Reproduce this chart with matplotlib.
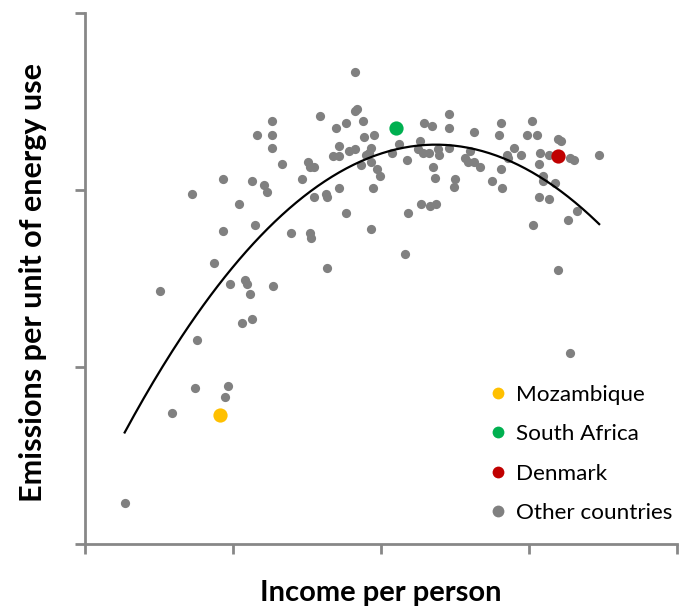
import numpy as np
import matplotlib
matplotlib.use("Agg")
import matplotlib.pyplot as plt
from matplotlib.lines import Line2D

plt.rcParams["font.family"] = ["Lato", "DejaVu Sans"]

# income per person (arbitrary units, axis ticks every 1)
other_income = [
    0.25, 0.49, 0.57, 0.71, 0.73, 0.74, 0.86, 0.92, 0.92, 0.93,
    0.95, 0.97, 1.03, 1.05, 1.07, 1.08, 1.10, 1.12, 1.12, 1.14,
    1.15, 1.20, 1.22, 1.25, 1.25, 1.25, 1.26, 1.32, 1.38, 1.46,
    1.50, 1.51, 1.54, 1.51, 1.52, 1.54, 1.62, 1.63, 1.63, 1.58,
    1.69, 1.76, 1.71, 1.67, 1.71, 1.78, 1.82, 1.71, 1.76, 1.82,
    1.82, 1.83, 1.87, 1.88, 1.95, 1.93, 1.91, 1.89, 1.93, 1.86,
    1.97, 1.99, 1.94, 1.93, 2.12, 2.07, 2.17, 2.16, 2.18, 2.27,
    2.33, 2.37, 2.26, 2.25, 2.28, 2.32, 2.38, 2.39, 2.29, 2.34,
    2.35, 2.36, 2.46, 2.46, 2.46, 2.60, 2.57, 2.59, 2.63, 2.67,
    2.63, 2.50, 2.49, 2.75, 2.81, 2.82, 2.81, 2.80, 2.85, 2.86,
    2.90, 2.95, 3.02, 2.99, 3.06, 3.08, 3.14, 3.07, 3.10, 3.10,
    3.18, 3.07, 3.14, 3.20, 3.22, 3.28, 3.31, 3.33, 3.27, 3.03,
    3.20, 3.28, 3.48,
]
# emissions per unit of energy use
other_emis = [
    0.23, 1.43, 0.74, 1.98, 0.88, 1.15, 1.59, 2.06, 1.77, 0.83,
    0.89, 1.47, 1.92, 1.25, 1.49, 1.47, 1.41, 1.27, 2.05, 1.80,
    2.31, 2.03, 1.99, 2.39, 2.31, 2.24, 1.46, 2.15, 1.76, 2.06,
    2.16, 2.13, 2.13, 1.76, 1.73, 1.96, 1.98, 1.96, 1.56, 2.42,
    2.35, 2.38, 2.25, 2.19, 2.19, 2.22, 2.23, 2.01, 1.87, 2.67,
    2.45, 2.46, 2.39, 2.30, 2.31, 2.24, 2.21, 2.20, 2.16, 2.14,
    2.12, 2.08, 2.01, 1.78, 2.26, 2.21, 2.17, 1.64, 1.87, 1.92,
    1.91, 1.92, 2.28, 2.23, 2.21, 2.21, 2.23, 2.20, 2.38, 2.36,
    2.13, 2.07, 2.43, 2.35, 2.24, 2.22, 2.18, 2.16, 2.16, 2.13,
    2.33, 2.06, 2.02, 2.05, 2.12, 2.01, 2.38, 2.31, 2.20, 2.18,
    2.24, 2.20, 2.39, 2.31, 2.31, 2.21, 2.20, 2.15, 2.08, 2.05,
    2.04, 1.96, 1.95, 2.29, 2.28, 2.18, 2.17, 1.88, 1.83, 1.80,
    1.55, 1.08, 2.20,
]

highlight_names = ["Mozambique", "South Africa", "Denmark"]
highlight_income = [0.90, 2.10, 3.20]
highlight_emis = [0.73, 2.35, 2.19]
highlight_colors = ["#FFC000", "#00B050", "#C00000"]
other_color = "#808080"

# quadratic trend line fitted on all countries
all_x = np.array(other_income + highlight_income)
all_y = np.array(other_emis + highlight_emis)
coef = np.polyfit(all_x, all_y, 2)
x_fit = np.linspace(min(all_x), max(all_x), 200)
y_fit = np.polyval(coef, x_fit)

fig = plt.figure(figsize=(6.79, 6.09), dpi=100)
ax = fig.add_axes([0.1252, 0.1072, 0.8719, 0.871])

ax.scatter(other_income, other_emis, s=44, color=other_color, linewidths=0, zorder=3)
ax.plot(x_fit, y_fit, color="black", lw=1.6, zorder=4)
for xi, yi, c in zip(highlight_income, highlight_emis, highlight_colors):
    ax.scatter([xi], [yi], s=105, color=c, linewidths=0, zorder=5)

xmin, xmax = -0.02, 4.01
ymin, ymax = 0.0, 3.0
ax.set_xlim(xmin, xmax)
ax.set_ylim(ymin, ymax)
ax.set_xticks(np.linspace(xmin, xmax, 5))
ax.set_yticks(np.linspace(ymin, ymax, 4))
ax.set_xticklabels([])
ax.set_yticklabels([])

spine_color = "#878787"
for side in ["top", "right"]:
    ax.spines[side].set_visible(False)
for side in ["left", "bottom"]:
    ax.spines[side].set_color(spine_color)
    ax.spines[side].set_linewidth(2.0)
ax.tick_params(axis="both", direction="out", length=7, width=2.0, color=spine_color)

ax.set_xlabel("Income per person", fontsize=21, fontweight="bold")
ax.set_ylabel("Emissions per unit of energy use", fontsize=22, fontweight="bold")
ax.xaxis.label.set_va("center")
ax.yaxis.label.set_va("center")
ax.xaxis.set_label_coords(0.5, -0.093)
ax.yaxis.set_label_coords(-0.088, 0.4925)

handles = [
    Line2D([], [], marker="o", ls="none", markersize=8.5, markerfacecolor=c,
           markeredgewidth=0, label=n)
    for n, c in zip(highlight_names + ["Other countries"], highlight_colors + [other_color])
]
ax.legend(handles=handles, loc="lower right", bbox_to_anchor=(1.007, 0.022),
          frameon=False, fontsize=16.2, handletextpad=0.2, labelspacing=0.86,
          handlelength=1.2, borderaxespad=0.0)

fig.savefig("out.png", dpi=100)
